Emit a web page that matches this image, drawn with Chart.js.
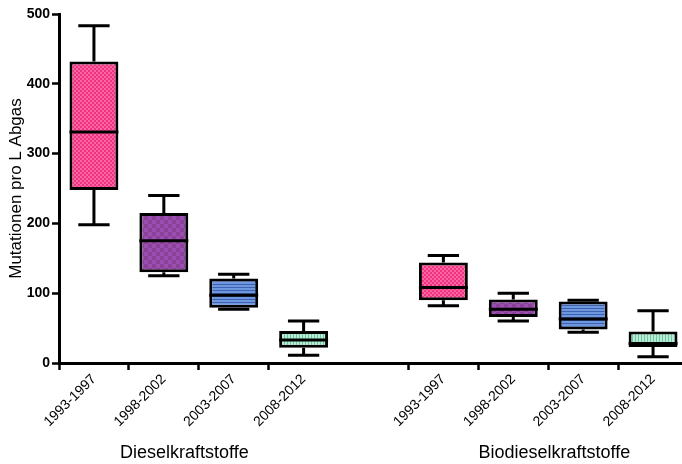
<!DOCTYPE html>
<html>
<head>
<meta charset="utf-8">
<script src="https://cdn.jsdelivr.net/npm/chart.js@4.4.1/dist/chart.umd.min.js"></script>
<style>
  html, body { margin: 0; padding: 0; background: #fff; overflow: hidden; }
  #wrap { width: 682px; height: 464px; overflow: hidden; }
  canvas { display: block; }
</style>
</head>
<body>
<div id="wrap"><canvas id="chart" width="688" height="464"></canvas></div>
<script>
// Period categories; the empty slot separates the two fuel groups
const periods = ['1993-1997', '1998-2002', '2003-2007', '2008-2012', '', '1993-1997', '1998-2002', '2003-2007', '2008-2012'];
const groupNames = ['Dieselkraftstoffe', 'Biodieselkraftstoffe'];

// Box plot statistics (mutations per litre of exhaust)
const whiskerLow  = [198, 125, 77, 11, null, 82, 60, 44, 9];
const quartile1   = [248, 130, 79, 22, null, 90, 66, 48, 23];
const medians     = [331, 175, 97, 33, null, 108, 77, 63, 28];
const quartile3   = [432, 215, 121, 46, null, 144, 91, 88, 45];
const whiskerHigh = [483, 240, 127, 60, null, 154, 100, 90, 75];

const yTicks = [0, 100, 200, 300, 400, 500];

Chart.defaults.font.family = "'Liberation Sans', Arial, sans-serif";
Chart.defaults.color = '#000';

const canvas = document.getElementById('chart');
const ctx = canvas.getContext('2d');

function tile(w, h, paint) {
  const c = document.createElement('canvas');
  c.width = w; c.height = h;
  paint(c.getContext('2d'));
  return ctx.createPattern(c, 'repeat');
}

// Hatched fills, one per period
const fills = [
  tile(4, 4, g => { g.fillStyle = '#f0327f'; g.fillRect(0, 0, 4, 4); g.fillStyle = '#fa65a4'; g.fillRect(0, 0, 2, 2); g.fillRect(2, 2, 2, 2); }),
  tile(8, 8, g => { g.fillStyle = '#9c4db2'; g.fillRect(0, 0, 8, 8); g.fillStyle = '#8a4298'; g.fillRect(0, 0, 4, 4); g.fillRect(4, 4, 4, 4); }),
  tile(3, 3, g => { g.fillStyle = '#6d98e0'; g.fillRect(0, 0, 3, 3); g.fillStyle = '#3e62b0'; g.fillRect(0, 2, 3, 1); }),
  tile(3, 3, g => { g.fillStyle = '#b8ecd6'; g.fillRect(0, 0, 3, 3); g.fillStyle = '#6fc5a0'; g.fillRect(2, 0, 1, 3); })
];
const fillFor = i => (i < 4 ? fills[i] : fills[(i - 5) % 4]);

const boxPlotExtras = {
  id: 'boxPlotExtras',
  beforeDatasetsDraw(chart) {
    const y = chart.scales.y;
    const meta = chart.getDatasetMeta(0);
    const c = chart.ctx;
    c.save();
    c.strokeStyle = '#000';
    c.lineWidth = 3;
    meta.data.forEach((bar, i) => {
      if (whiskerLow[i] == null) return;
      const x = bar.x;
      const half = bar.width * 0.32;
      const yHi = y.getPixelForValue(whiskerHigh[i]);
      const yLo = y.getPixelForValue(whiskerLow[i]);
      const yQ3 = y.getPixelForValue(quartile3[i]);
      const yQ1 = y.getPixelForValue(quartile1[i]);
      c.beginPath();
      c.moveTo(x, yHi); c.lineTo(x, yQ3);
      c.moveTo(x, yQ1); c.lineTo(x, yLo);
      c.moveTo(x - half, yHi); c.lineTo(x + half, yHi);
      c.moveTo(x - half, yLo); c.lineTo(x + half, yLo);
      c.stroke();
    });
    c.restore();
  },
  afterDatasetsDraw(chart) {
    const y = chart.scales.y;
    const meta = chart.getDatasetMeta(0);
    const c = chart.ctx;
    c.save();
    c.strokeStyle = '#000';
    c.lineWidth = 3;
    meta.data.forEach((bar, i) => {
      if (medians[i] == null) return;
      const ym = y.getPixelForValue(medians[i]);
      c.beginPath();
      c.moveTo(bar.x - bar.width / 2, ym);
      c.lineTo(bar.x + bar.width / 2, ym);
      c.stroke();
    });
    c.restore();
  },
  afterDraw(chart) {
    const x = chart.scales.x;
    const c = chart.ctx;
    c.save();
    c.fillStyle = '#000';
    c.font = "18px 'Liberation Sans', Arial, sans-serif";
    c.textAlign = 'left';
    c.textBaseline = 'alphabetic';
    c.fillText(groupNames[0], x.getPixelForValue(0) + 26, 458);
    c.fillText(groupNames[1], x.getPixelForValue(5) + 35, 458);
    c.restore();
  }
};

new Chart(ctx, {
  type: 'bar',
  data: {
    labels: periods,
    datasets: [{
      data: quartile1.map((v, i) => (v == null ? null : [v, quartile3[i]])),
      backgroundColor: periods.map((p, i) => (p === '' ? 'rgba(0,0,0,0)' : fillFor(i))),
      borderColor: '#000',
      borderWidth: 3,
      borderSkipped: false,
      barPercentage: 0.7,
      categoryPercentage: 1
    }]
  },
  options: {
    responsive: false,
    animation: false,
    devicePixelRatio: 1,
    layout: { padding: { top: 14, right: 0, bottom: 0, left: 0 } },
    plugins: { legend: { display: false }, tooltip: { enabled: false } },
    scales: {
      x: {
        type: 'category',
        offset: true,
        grid: {
          display: true,
          drawOnChartArea: false,
          drawTicks: true,
          tickLength: 7,
          tickWidth: 2.5,
          tickColor: c => (periods[c.index] === '' ? 'rgba(0,0,0,0)' : '#000')
        },
        border: { display: true, color: '#000', width: 3 },
        ticks: {
          autoSkip: false,
          minRotation: 45,
          maxRotation: 45,
          padding: 1,
          color: '#000',
          font: { size: 14 }
        },
        afterFit(scale) { scale.height = 101; }
      },
      y: {
        min: 0,
        max: 500,
        afterBuildTicks(scale) { scale.ticks = yTicks.map(v => ({ value: v })); },
        grid: {
          display: true,
          drawOnChartArea: false,
          drawTicks: true,
          tickLength: 7,
          tickWidth: 2.5,
          tickColor: '#000'
        },
        border: { display: true, color: '#000', width: 3 },
        ticks: {
          padding: 2,
          color: '#000',
          font: { size: 14, weight: 'bold' }
        },
        title: {
          display: true,
          text: 'Mutationen pro L Abgas',
          color: '#000',
          font: { size: 17 },
          padding: { top: 6, bottom: 4 }
        },
        afterFit(scale) { scale.width = 59; }
      }
    }
  },
  plugins: [boxPlotExtras]
});
</script>
</body>
</html>
